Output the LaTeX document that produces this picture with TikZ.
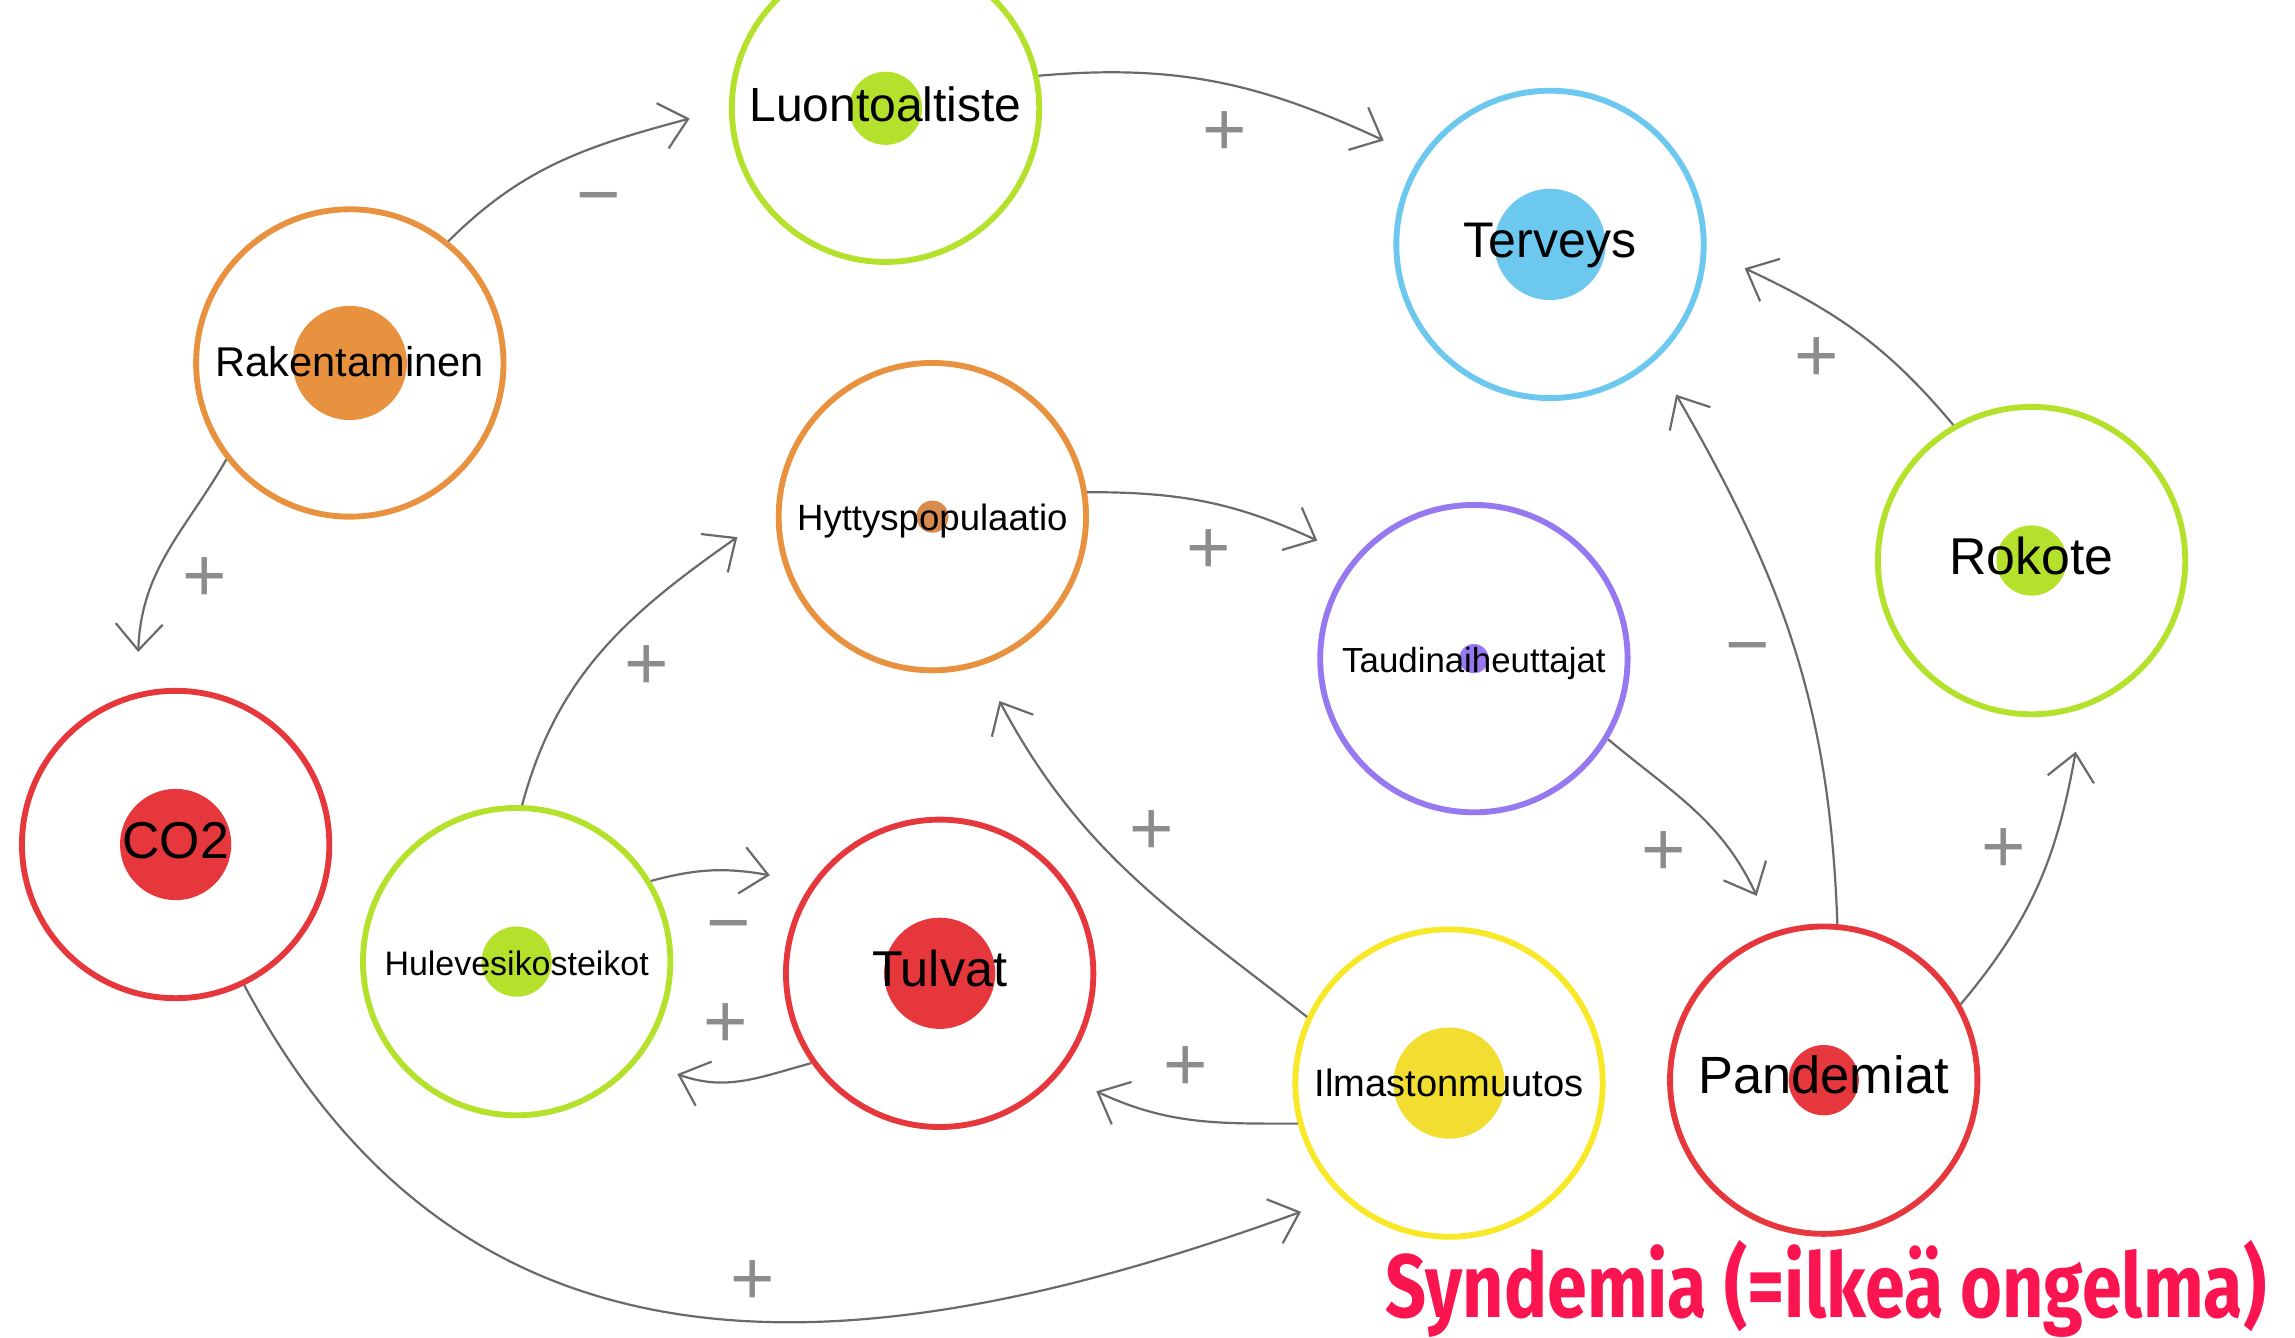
\documentclass[tikz,border=0pt]{standalone}
\usepackage{fontspec}
\setmainfont{Liberation Sans}
\newfontfamily\titlefont{Fira Sans}[FakeStretch=0.8]
\usetikzlibrary{arrows.meta}
\definecolor{cLime}{HTML}{B4E22C}
\definecolor{cBlue}{HTML}{6DC8F0}
\definecolor{cOrange}{HTML}{E8913E}
\definecolor{cOrDot}{HTML}{D98B4E}
\definecolor{cPurple}{HTML}{9678F0}
\definecolor{cRed}{HTML}{E6373C}
\definecolor{cYellow}{HTML}{F8E828}
\definecolor{cYelDot}{HTML}{F2DE30}
\definecolor{connGray}{HTML}{6A6A6A}
\definecolor{signGray}{HTML}{8C8C8C}
\definecolor{titlered}{HTML}{FA1450}
\tikzset{
  ring/.style={circle, draw=#1, line width=2pt, minimum size=105pt, inner sep=0pt},
  halo/.style={circle, minimum size=134pt, inner sep=0pt, outer sep=0pt},
  dotnode/.style={circle, fill=#1, draw=none, inner sep=0pt},
  lbl/.style={anchor=mid, inner sep=0pt, text=black, yshift=-2pt},
  conn/.style={draw=connGray, line width=0.75pt, -{Straight Barb[length=9pt, width=16pt]}},
  sign/.style={anchor=base, yshift=-9pt, inner sep=0pt, text=signGray, font=\fontsize{26pt}{26pt}\selectfont},
}
\begin{document}
\begin{tikzpicture}[x=0.5pt, y=0.5pt]
\useasboundingbox (0,0) rectangle (1568,914);
% nodes
\node[dotnode=cLime, minimum size=25pt] (luonD) at (605,840) {};
\node[ring=cLime] (luon) at (605,840) {};
\node[halo] (luonH) at (605,840) {};
\node[lbl, font=\fontsize{16.4pt}{18pt}\selectfont] (luonT) at (luon) {Luontoaltiste};

\node[dotnode=cBlue, minimum size=38pt] (tervD) at (1059,747) {};
\node[ring=cBlue] (terv) at (1059,747) {};
\node[halo] (tervH) at (1059,747) {};
\node[lbl, font=\fontsize{17.1pt}{19pt}\selectfont] (tervT) at (terv) {Terveys};

\node[dotnode=cOrange, minimum size=39pt] (rakD) at (239,666) {};
\node[ring=cOrange] (rak) at (239,666) {};
\node[halo] (rakH) at (239,666) {};
\node[lbl, font=\fontsize{14.2pt}{16pt}\selectfont] (rakT) at (rak) {Rakentaminen};

\node[dotnode=cOrDot, minimum size=11pt] (hyttD) at (637,561) {};
\node[ring=cOrange] (hytt) at (637,561) {};
\node[halo] (hyttH) at (637,561) {};
\node[lbl, font=\fontsize{12.5pt}{14pt}\selectfont] (hyttT) at (hytt) {Hyttyspopulaatio};

\node[dotnode=cPurple, minimum size=10pt] (taudD) at (1007,464) {};
\node[ring=cPurple] (taud) at (1007,464) {};
\node[halo] (taudH) at (1007,464) {};
\node[lbl, font=\fontsize{11.9pt}{14pt}\selectfont] (taudT) at (taud) {Taudinaiheuttajat};

\node[dotnode=cLime, minimum size=24pt] (rokD) at (1388,531) {};
\node[ring=cLime] (rok) at (1388,531) {};
\node[halo] (rokH) at (1388,531) {};
\node[lbl, font=\fontsize{17.7pt}{19pt}\selectfont] (rokT) at (rok) {Rokote};

\node[dotnode=cRed, minimum size=38pt] (co2D) at (120,337) {};
\node[ring=cRed] (co2) at (120,337) {};
\node[halo] (co2H) at (120,337) {};
\node[lbl, font=\fontsize{17.7pt}{19pt}\selectfont] (co2T) at (co2) {CO2};

\node[dotnode=cLime, minimum size=24pt] (huleD) at (353,257) {};
\node[ring=cLime] (hule) at (353,257) {};
\node[halo] (huleH) at (353,257) {};
\node[lbl, font=\fontsize{11.6pt}{14pt}\selectfont] (huleT) at (hule) {Hulevesikosteikot};

\node[dotnode=cRed, minimum size=38pt] (tulvD) at (642,249) {};
\node[ring=cRed] (tulv) at (642,249) {};
\node[halo] (tulvH) at (642,249) {};
\node[lbl, font=\fontsize{17.2pt}{19pt}\selectfont] (tulvT) at (tulv) {Tulvat};

\node[dotnode=cYelDot, minimum size=38pt] (ilmaD) at (990,174) {};
\node[ring=cYellow] (ilma) at (990,174) {};
\node[halo] (ilmaH) at (990,174) {};
\node[lbl, font=\fontsize{13pt}{15pt}\selectfont] (ilmaT) at (ilma) {Ilmastonmuutos};

\node[dotnode=cRed, minimum size=24pt] (pandD) at (1246,176) {};
\node[ring=cRed] (pand) at (1246,176) {};
\node[halo] (pandH) at (1246,176) {};
\node[lbl, font=\fontsize{17.9pt}{19pt}\selectfont] (pandT) at (pand) {Pandemiat};

% connectors
\draw[conn] (rak.51) to[out=45, in=195] (luonH.183);
\draw[conn] (luon.12) to[out=5, in=155] (tervH.148);
\draw[conn] (rak.218) to[out=240, in=88] (co2H.101);
\draw[conn] (rok.120) to[out=130, in=335] (tervH.353);
\draw[conn] (pand.85) to[out=92, in=300] (tervH.310);
\draw[conn] (hytt.9) to[out=0, in=155] (taudH.143);
\draw[conn] (hule.88) to[out=75, in=215] (hyttH.186);
\draw[conn] (taud.329) to[out=-40, in=115] (pandH.110);
\draw[conn] (pand.29) to[out=50, in=260] (rokH.283);
\draw[conn] (ilma.155) to[out=142, in=298] (hyttH.290);
\draw[conn] (hule.31) to[out=15, in=170] (tulvH.150);
\draw[conn] (tulv.215) to[out=195, in=340] (huleH.325);
\draw[conn] (ilma.195) to[out=180, in=335] (tulvH.323);
\draw[conn] (co2.296) to[out=-62, in=200, looseness=1.12] (ilmaH.221);

% signs
\node[sign] (s1) at (409,781) {−};
\node[sign] (s2) at (837,826) {+};
\node[sign] (s3) at (140,521) {+};
\node[sign] (s4) at (1241,671) {+};
\node[sign] (s5) at (1194,474) {−};
\node[sign] (s6) at (826,540) {+};
\node[sign] (s7) at (442,461) {+};
\node[sign] (s8) at (1137,334) {+};
\node[sign] (s9) at (1369,336) {+};
\node[sign] (s10) at (787,348) {+};
\node[sign] (s11) at (498,284) {−};
\node[sign] (s12) at (496,216) {+};
\node[sign] (s13) at (810,187) {+};
\node[sign] (s14) at (514,41) {+};

% title
\node[anchor=base west, inner sep=0pt, text=titlered] (title) at (946,14)
  {\resizebox{301pt}{!}{\titlefont\bfseries Syndemia (=ilkeä ongelma)}};
\end{tikzpicture}
\end{document}
